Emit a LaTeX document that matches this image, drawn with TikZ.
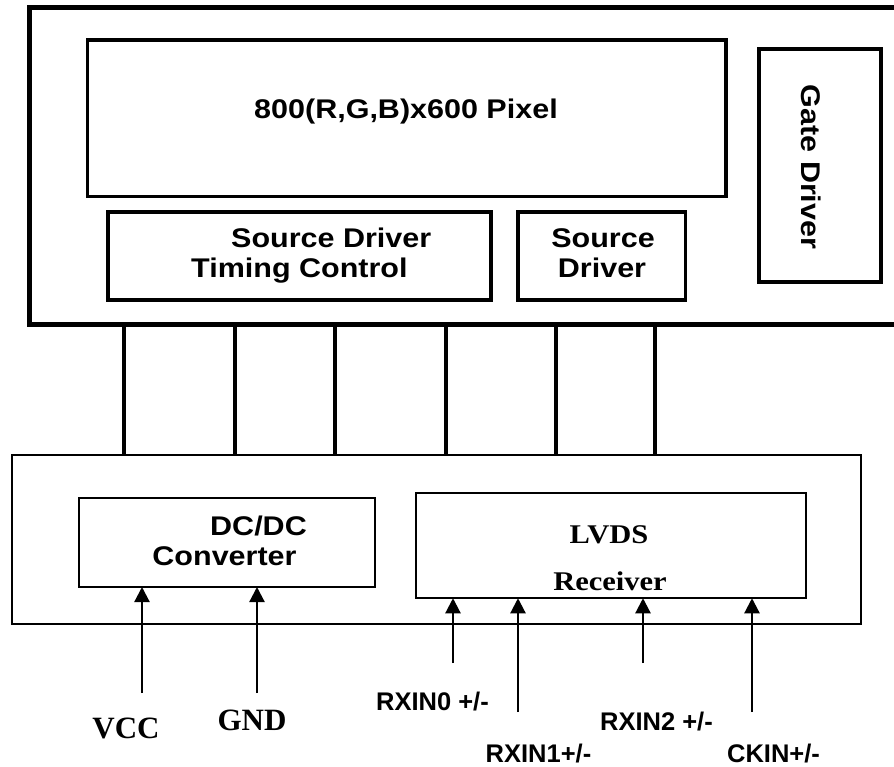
\documentclass[tikz,border=0pt]{standalone}
\usepackage{fontspec}
\setmainfont{Liberation Serif}
\newfontfamily\panelfont[FakeStretch=1.13]{Liberation Sans}
\newfontfamily\pinfont{Liberation Sans}
\newfontfamily\lvdsfont[FakeStretch=1.13]{Liberation Serif}
\usetikzlibrary{arrows.meta}

\tikzset{
  blk/.style={draw, line width=3.3pt, inner sep=0pt, outer sep=0pt},
  thinblk/.style={draw, line width=1.8pt, inner sep=0pt, outer sep=0pt},
  bus/.style={line width=3.2pt},
  sig/.style={line width=2.2pt, -{Triangle[length=15pt,width=15pt]}},
  txt/.style={font=\fontsize{27}{32}\panelfont\bfseries, anchor=base, inner sep=0pt},
  pin/.style={font=\fontsize{25.5}{30}\pinfont\bfseries, anchor=base, inner sep=0pt},
  rtxt/.style={font=\fontsize{27}{32}\lvdsfont\bfseries, anchor=base, inner sep=0pt},
  ptxt/.style={font=\fontsize{31}{36}\selectfont\bfseries, anchor=base, inner sep=0pt}
}

\begin{document}
\begin{tikzpicture}[x=1pt,y=-1pt]
            \useasboundingbox (0,0) rectangle (894,767);
            \clip (0,0) rectangle (894,767);

            % LCD panel (runs off the right edge)
            \node[blk, line width=5pt, minimum width=876pt, minimum height=316.5pt] (lcd) at (467,165.75) {};
            \node[blk, minimum width=638.5pt, minimum height=156.5pt] (pix) at (406.75,118.25) {};
            \node[blk, minimum width=122pt, minimum height=233pt] (gate) at (820,165.5) {};
            \node[blk, minimum width=383pt, minimum height=88pt] (tcon) at (299.5,256) {};
            \node[blk, minimum width=167.5pt, minimum height=88pt] (src) at (601.75,256) {};

            % Interface board
            \node[thinblk, minimum width=849pt, minimum height=169pt] (board) at (436.5,539.5) {};
            \node[thinblk, minimum width=296pt, minimum height=89pt] (dcdc) at (227,542.5) {};
            \node[thinblk, minimum width=390pt, minimum height=105.5pt] (lvds) at (611,545.5) {};

            % Panel labels
            \node[txt] (pixtxt) at (406,119) {800(R,G,B)x600 Pixel};
            \node[txt, anchor=base west] (tcontxt) at (231,248) {Source Driver};
            \node[txt, anchor=base west] (tcontxtb) at (191,278) {Timing Control};
            \node[txt] (srctxt) at (603,248) {Source};
            \node[txt] (srctxtb) at (602,278) {Driver};
            \node[txt, rotate=-90, anchor=center] (gatetxt) at (811,167) {Gate Driver};

            % Board labels
            \node[txt] (dcdctxt) at (258.5,535) {DC/DC};
            \node[txt] (dcdctxtb) at (224.5,565) {Converter};
            \node[rtxt] (lvdstxt) at (609,543) {LVDS};
            \node[rtxt] (lvdstxtb) at (610,590) {Receiver};

            % Lines between panel and board
            \foreach \x in {124,235,335,446,556,655}
              \draw[bus] (lcd.south -| \x,0) -- (board.north -| \x,0);

            % Inputs
            \coordinate (vcc) at (142,693);
            \coordinate (gnd) at (257,693);
            \coordinate (rx0) at (453,663);
            \coordinate (rx1) at (518,712);
            \coordinate (rx2) at (643,663);
            \coordinate (ck) at (752,712);
            \draw[sig] (vcc) -- (vcc |- dcdc.south);
            \draw[sig] (gnd) -- (gnd |- dcdc.south);
            \draw[sig] (rx0) -- (rx0 |- lvds.south);
            \draw[sig] (rx1) -- (rx1 |- lvds.south);
            \draw[sig] (rx2) -- (rx2 |- lvds.south);
            \draw[sig] (ck) -- (ck |- lvds.south);

            % Input labels
            \node[ptxt] (vcctxt) at (126,738) {VCC};
            \node[ptxt] (gndtxt) at (252,730) {GND};
            \node[pin] (rx0txt) at (432.5,710) {RXIN0 +/-};
            \node[pin] (rx1txt) at (538.5,762) {RXIN1+/-};
            \node[pin] (rx2txt) at (656.5,730) {RXIN2 +/-};
            \node[pin] (cktxt) at (773.5,762) {CKIN+/-};
\end{tikzpicture}
\end{document}
